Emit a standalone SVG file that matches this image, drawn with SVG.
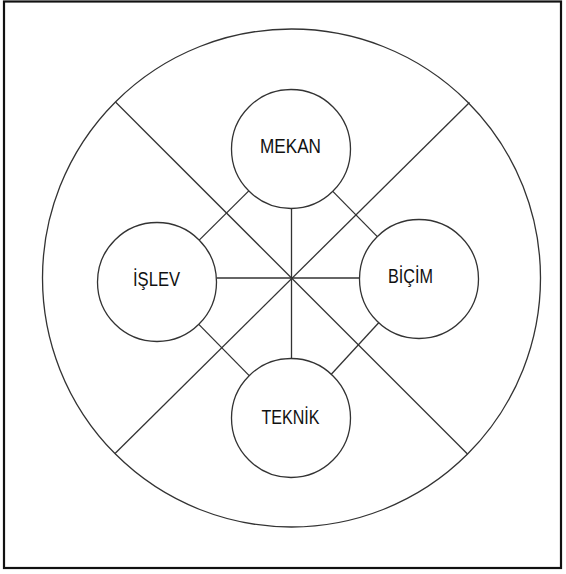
<svg xmlns="http://www.w3.org/2000/svg" width="566" height="574" viewBox="0 0 566 574">
<style>
.ln{stroke:#333;stroke-width:1.3;fill:none}
.nd{stroke:#333;stroke-width:1.3;fill:#fff}
.lb{font-family:"Liberation Sans",Arial,sans-serif;font-size:21px;fill:#111}
</style>
<rect x="0" y="0" width="566" height="574" fill="#fff"/>
<rect x="4" y="1.5" width="557" height="566.5" fill="none" stroke="#111" stroke-width="2.2"/>
<g id="outer">
<circle class="ln" cx="291.5" cy="278" r="249"/>
</g>
<g id="connectors">
<line class="ln" x1="115.5" y1="102" x2="467.5" y2="454"/>
<line class="ln" x1="469.5" y1="102.5" x2="115" y2="453.5"/>
<line class="ln" x1="216.5" y1="278" x2="360" y2="278"/>
<line class="ln" x1="291.5" y1="208.5" x2="291.5" y2="358.5"/>
<line class="ln" x1="248.8" y1="190.9" x2="199.2" y2="240.1"/>
<line class="ln" x1="332.8" y1="191.4" x2="377.3" y2="236.6"/>
<line class="ln" x1="198.8" y1="324.4" x2="249.2" y2="375.6"/>
<line class="ln" x1="378.7" y1="322.8" x2="331.3" y2="374.2"/>
</g>
<g id="mekan">
<circle class="nd" cx="291" cy="149" r="59.5"/>
<text class="lb" x="260" y="153" textLength="61" lengthAdjust="spacingAndGlyphs">MEKAN</text>
</g>
<g id="islev">
<circle class="nd" cx="157" cy="282" r="59.5"/>
<text class="lb" x="133" y="286" textLength="47" lengthAdjust="spacingAndGlyphs">İŞLEV</text>
</g>
<g id="bicim">
<circle class="nd" cx="419" cy="279" r="59.5"/>
<text class="lb" x="388" y="283" textLength="45" lengthAdjust="spacingAndGlyphs">BİÇİM</text>
</g>
<g id="teknik">
<circle class="nd" cx="291" cy="418" r="59.5"/>
<text class="lb" x="261.5" y="424" textLength="58" lengthAdjust="spacingAndGlyphs">TEKNİK</text>
</g>
</svg>
